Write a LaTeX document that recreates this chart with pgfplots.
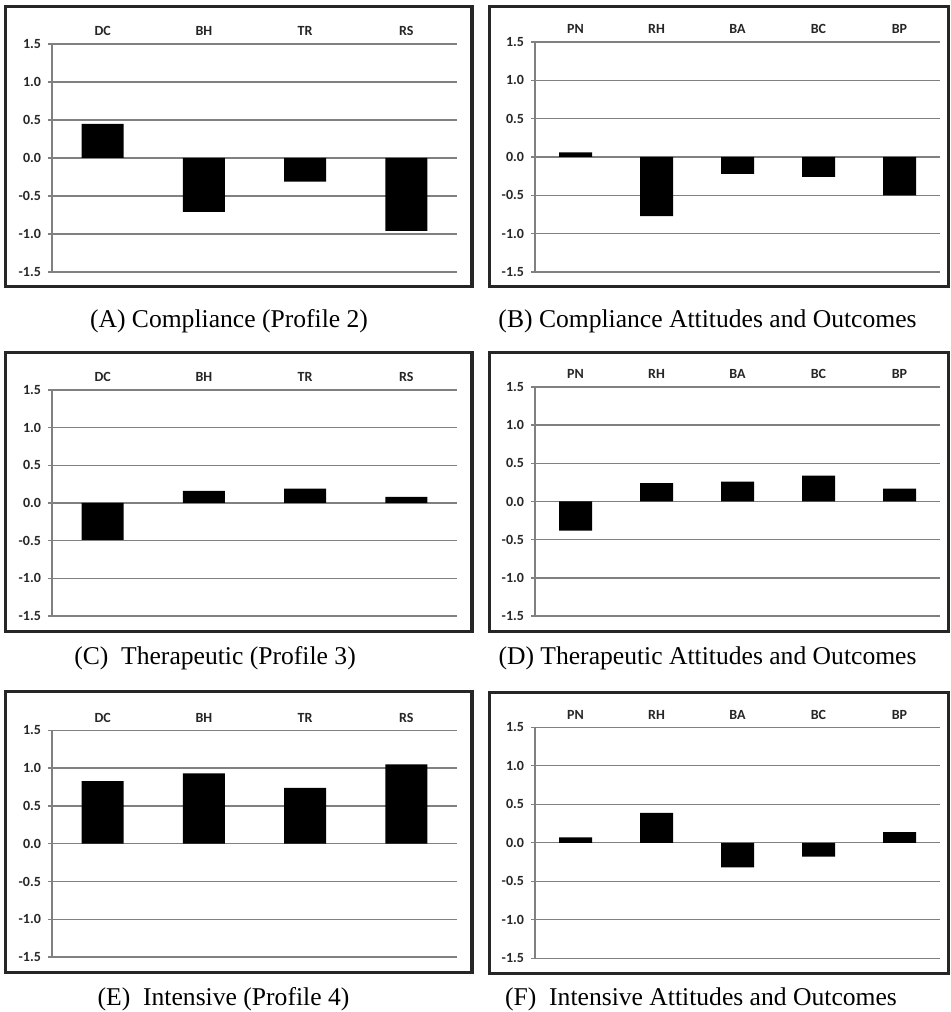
\documentclass[border=0pt]{standalone}
\usepackage{pgfplots}
\pgfplotsset{compat=1.18}
\usepackage{fontspec}
\setmainfont{Liberation Serif}
\newfontfamily\chartfont{Carlito}
\pgfplotsset{panel/.style={
  scale only axis, width=202.5pt,
  ymin=-1.5, ymax=1.5,
  ytick={-1.5,-1,-0.5,0,0.5,1,1.5},
  yticklabels={-1.5,-1.0,-0.5,0.0,0.5,1.0,1.5},
  axis x line*=top, axis y line*=left,
  axis line style={black!50, line width=0.7pt},
  ymajorgrids, grid style={black!50, line width=0.7pt},
  xtick=data, xtick style={draw=none},
  ytick style={black!50, line width=0.7pt}, tick align=outside, major tick length=2pt,
  ticklabel style={font=\chartfont\bfseries\fontsize{7}{8}\selectfont, text=black!85},
  xticklabel style={yshift=-1.5pt},
  anchor=south west, clip=false
}}
\begin{document}
\begin{tikzpicture}[x=1pt,y=1pt]
\useasboundingbox (0,0) rectangle (475,506);
% frames
\draw[line width=1.6pt, black!85] (2.8,362.8) rectangle (236,502.7);
\draw[line width=1.6pt, black!85] (244.8,362.8) rectangle (474.2,502.7);
\draw[line width=1.6pt, black!85] (2.8,190.3) rectangle (236,329.7);
\draw[line width=1.6pt, black!85] (244.8,190.3) rectangle (474.2,329.7);
\draw[line width=1.6pt, black!85] (2.8,19.8) rectangle (236,160.2);
\draw[line width=1.6pt, black!85] (244.8,19.3) rectangle (474.2,159.7);
% A
\begin{axis}[panel, at={(26pt,370pt)}, height=114pt, xmin=-0.5, xmax=3.5,
  xticklabels={DC,BH,TR,RS}]
\addplot[ybar, fill=black, draw=none, bar width=21pt] coordinates {(0,0.45) (1,-0.71) (2,-0.31) (3,-0.96)};
\end{axis}
% B
\begin{axis}[panel, at={(267.5pt,370pt)}, height=115pt, xmin=-0.5, xmax=4.5,
  xticklabels={PN,RH,BA,BC,BP}]
\addplot[ybar, fill=black, draw=none, bar width=16.5pt] coordinates {(0,0.06) (1,-0.77) (2,-0.22) (3,-0.26) (4,-0.50)};
\end{axis}
% C
\begin{axis}[panel, at={(26pt,198pt)}, height=113pt, xmin=-0.5, xmax=3.5,
  xticklabels={DC,BH,TR,RS}]
\addplot[ybar, fill=black, draw=none, bar width=21pt] coordinates {(0,-0.49) (1,0.16) (2,0.19) (3,0.08)};
\end{axis}
% D
\begin{axis}[panel, at={(267.5pt,198pt)}, height=114.5pt, xmin=-0.5, xmax=4.5,
  xticklabels={PN,RH,BA,BC,BP}]
\addplot[ybar, fill=black, draw=none, bar width=16.5pt] coordinates {(0,-0.38) (1,0.24) (2,0.26) (3,0.34) (4,0.17)};
\end{axis}
% E
\begin{axis}[panel, at={(26pt,27.5pt)}, height=113.3pt, xmin=-0.5, xmax=3.5,
  xticklabels={DC,BH,TR,RS}]
\addplot[ybar, fill=black, draw=none, bar width=21pt] coordinates {(0,0.83) (1,0.93) (2,0.74) (3,1.05)};
\end{axis}
% F
\begin{axis}[panel, at={(267.5pt,26.85pt)}, height=115.5pt, xmin=-0.5, xmax=4.5,
  xticklabels={PN,RH,BA,BC,BP}]
\addplot[ybar, fill=black, draw=none, bar width=16.5pt] coordinates {(0,0.07) (1,0.39) (2,-0.32) (3,-0.18) (4,0.14)};
\end{axis}
% captions
\begin{scope}[every node/.style={anchor=base, font=\fontsize{12.8}{14}\selectfont}]
\node at (114.5,342) {(A) Compliance (Profile 2)};
\node at (353.75,342) {(B) Compliance Attitudes and Outcomes};
\node at (107.5,173.5) {(C)\ \ Therapeutic (Profile 3)};
\node at (353.75,173.5) {(D) Therapeutic Attitudes and Outcomes};
\node at (111.75,3) {(E)\ \ Intensive (Profile 4)};
\node at (350.5,3) {(F)\ \ Intensive Attitudes and Outcomes};
\end{scope}
\end{tikzpicture}
\end{document}
